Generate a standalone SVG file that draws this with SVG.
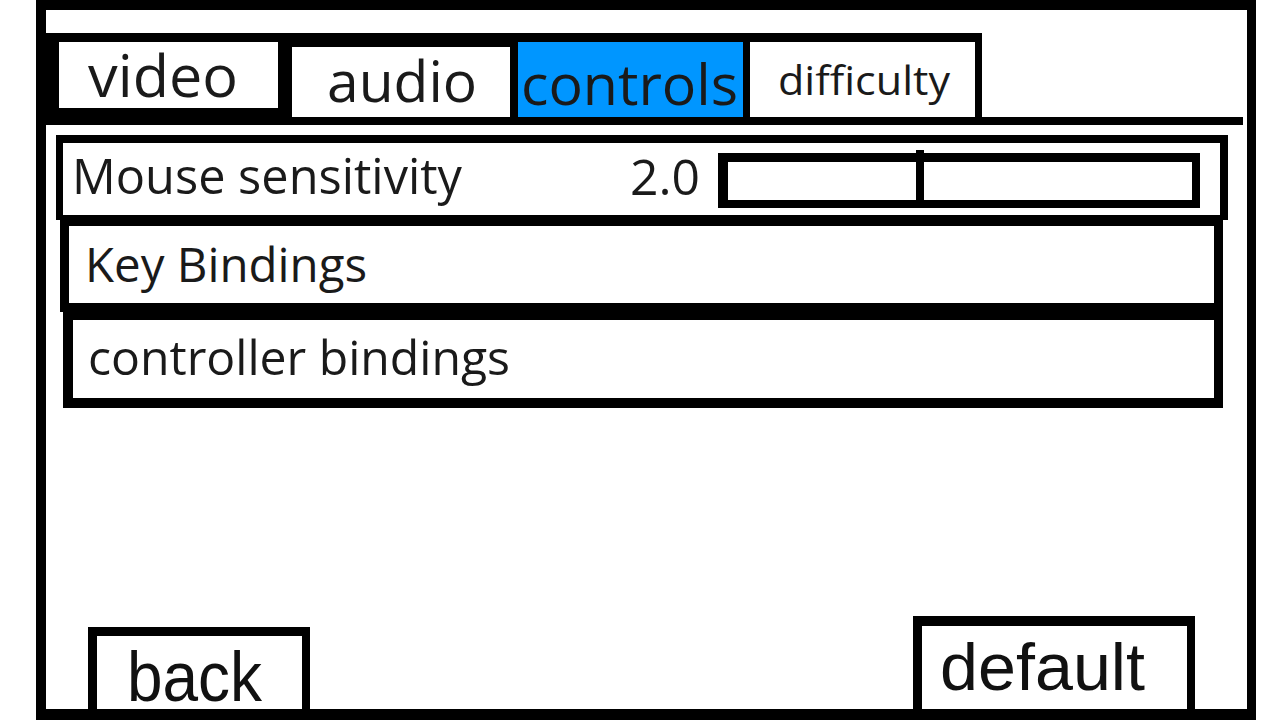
<svg xmlns="http://www.w3.org/2000/svg" width="1280" height="720" viewBox="0 0 1280 720">
<style>
.blk{fill:#000}
.wht{fill:#fff}
.ui{font-family:"Open Sans","Noto Sans","DejaVu Sans",sans-serif;fill:#1a1a1a}
.btn{font-family:"Liberation Sans",Arial,sans-serif;fill:#111}
</style>
<rect width="1280" height="720" fill="#fff"/>
<g id="frame">
<rect class="blk" x="36" y="0" width="1220" height="720"/>
<rect class="wht" x="46" y="10" width="1201" height="699"/>
</g>
<g id="tabs">
<rect class="blk" x="46" y="33" width="936" height="90"/>
<rect class="blk" x="46" y="117" width="1197" height="8"/>
<g id="tab-video">
<rect class="wht" x="59" y="42" width="219" height="66"/>
<text class="ui" x="88" y="97" font-size="58" textLength="150" lengthAdjust="spacingAndGlyphs">video</text>
</g>
<g id="tab-audio">
<rect class="wht" x="292" y="47" width="218" height="70"/>
<text class="ui" x="327" y="102" font-size="57" textLength="150" lengthAdjust="spacingAndGlyphs">audio</text>
</g>
<g id="tab-controls">
<rect x="518" y="42" width="225" height="75" fill="#0096ff"/>
<text class="ui" x="521" y="105" font-size="57" textLength="217" lengthAdjust="spacingAndGlyphs" fill="#000">controls</text>
</g>
<g id="tab-difficulty">
<rect class="wht" x="750" y="42" width="225" height="75"/>
<text class="ui" x="778" y="95" font-size="40" textLength="172" lengthAdjust="spacingAndGlyphs">difficulty</text>
</g>
</g>
<g id="row-mouse">
<rect class="blk" x="56" y="135" width="1172" height="85"/>
<rect class="wht" x="63" y="143" width="1157" height="72"/>
<text class="ui" x="72" y="194" font-size="49" textLength="390" lengthAdjust="spacingAndGlyphs">Mouse sensitivity</text>
<text class="ui" x="630" y="195" font-size="49" textLength="70" lengthAdjust="spacingAndGlyphs">2.0</text>
<g id="slider">
<rect class="blk" x="718" y="153" width="482" height="55"/>
<rect class="wht" x="728" y="162" width="464" height="38"/>
<rect class="blk" x="916" y="150" width="8" height="52"/>
</g>
</g>
<g id="row-keys">
<rect class="blk" x="60" y="215" width="1163" height="97"/>
<rect class="wht" x="69" y="226" width="1145" height="77"/>
<text class="ui" x="85" y="282" font-size="48" textLength="282" lengthAdjust="spacingAndGlyphs">Key Bindings</text>
</g>
<g id="row-controller">
<rect class="blk" x="63" y="303" width="1160" height="105"/>
<rect class="wht" x="73" y="320" width="1141" height="78"/>
<text class="ui" x="88" y="375" font-size="48" textLength="422" lengthAdjust="spacingAndGlyphs">controller bindings</text>
</g>
<g id="btn-back">
<rect class="blk" x="88" y="627" width="222" height="85"/>
<rect class="wht" x="97" y="636" width="205" height="73"/>
<text class="btn" x="127" y="701" font-size="70" textLength="135" lengthAdjust="spacingAndGlyphs">back</text>
</g>
<g id="btn-default">
<rect class="blk" x="913" y="616" width="282" height="96"/>
<rect class="wht" x="922" y="626" width="265" height="83"/>
<text class="btn" x="940" y="690" font-size="66" textLength="205" lengthAdjust="spacingAndGlyphs">default</text>
</g>
<g id="connectors"/>
</svg>
